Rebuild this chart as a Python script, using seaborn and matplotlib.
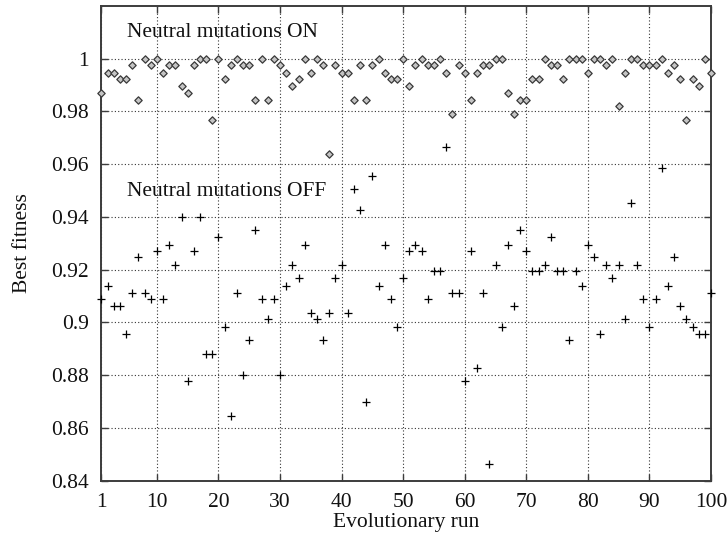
import numpy as np
import matplotlib
matplotlib.use("Agg")
import matplotlib.pyplot as plt
import seaborn as sns

# ---- data ----
runs = list(range(1, 101))

on_vals = [
    0.987, 0.9947, 0.9947, 0.9922, 0.9922, 0.9975, 0.9845, 1.0, 0.9975, 1.0,
    0.9947, 0.9975, 0.9975, 0.9897, 0.987, 0.9975, 1.0, 1.0, 0.9769, 1.0,
    0.9922, 0.9975, 1.0, 0.9975, 0.9975, 0.9845, 1.0, 0.9845, 1.0, 0.9975,
    0.9947, 0.9897, 0.9922, 1.0, 0.9947, 1.0, 0.9975, 0.9638, 0.9975, 0.9947,
    0.9947, 0.9845, 0.9975, 0.9845, 0.9975, 1.0, 0.9947, 0.9922, 0.9922, 1.0,
    0.9897, 0.9975, 1.0, 0.9975, 0.9975, 1.0, 0.9947, 0.9792, 0.9975, 0.9947,
    0.9845, 0.9947, 0.9975, 0.9975, 1.0, 1.0, 0.987, 0.9792, 0.9845, 0.9845,
    0.9922, 0.9922, 1.0, 0.9975, 0.9975, 0.9922, 1.0, 1.0, 1.0, 0.9947,
    1.0, 1.0, 0.9975, 1.0, 0.9819, 0.9947, 1.0, 1.0, 0.9975, 0.9975,
    0.9975, 1.0, 0.9947, 0.9975, 0.9922, 0.9767, 0.9922, 0.9897, 1.0, 0.9947,
]

off_vals = [
    0.9089, 0.9139, 0.9063, 0.9063, 0.8957, 0.9113, 0.9246, 0.9113, 0.9089, 0.9272,
    0.9089, 0.9295, 0.9216, 0.94, 0.8777, 0.9272, 0.94, 0.888, 0.888, 0.9324,
    0.8983, 0.8644, 0.9113, 0.88, 0.8932, 0.9349, 0.9089, 0.9011, 0.9089, 0.88,
    0.9139, 0.9216, 0.9168, 0.9295, 0.9036, 0.9011, 0.8932, 0.9036, 0.9168, 0.9216,
    0.9036, 0.9505, 0.9428, 0.8696, 0.9557, 0.9139, 0.9295, 0.9089, 0.8983, 0.9168,
    0.9272, 0.9295, 0.9272, 0.9089, 0.9193, 0.9193, 0.9665, 0.9113, 0.9113, 0.8777,
    0.9272, 0.8827, 0.9113, 0.8464, 0.9216, 0.8983, 0.9295, 0.9061, 0.9349, 0.9272,
    0.9193, 0.9193, 0.9216, 0.9324, 0.9193, 0.9193, 0.8932, 0.9193, 0.9139, 0.9295,
    0.9246, 0.8957, 0.9216, 0.9168, 0.9216, 0.9011, 0.9452, 0.9216, 0.9089, 0.8983,
    0.9089, 0.9584, 0.9139, 0.9246, 0.9061, 0.9011, 0.8983, 0.8957, 0.8957, 0.9113,
]

x_ticks = [1, 10, 20, 30, 40, 50, 60, 70, 80, 90, 100]
y_ticks = [0.84, 0.86, 0.88, 0.9, 0.92, 0.94, 0.96, 0.98, 1.0]
y_tick_labels = ["0.84", "0.86", "0.88", "0.9", "0.92", "0.94", "0.96", "0.98", "1"]
label_on = "Neutral mutations ON"
label_off = "Neutral mutations OFF"
x_title = "Evolutionary run"
y_title = "Best fitness"

# ---- style ----
sns.set_style("ticks")
plt.rcParams["font.family"] = ["Liberation Serif", "DejaVu Serif"]
FS = 15.5

fig = plt.figure(figsize=(7.27, 5.36), dpi=100)
ax = fig.add_axes([0.1396, 0.1035, 0.8384, 0.8853])

sns.scatterplot(x=runs, y=on_vals, ax=ax, marker="D", s=14,
                facecolor="#c4c4c4", edgecolor="#3a3a3a", linewidth=0.9,
                zorder=3, clip_on=False, legend=False)
sns.scatterplot(x=runs, y=off_vals, ax=ax, marker="+", s=30,
                color="black", linewidth=0.9, zorder=3, clip_on=False,
                legend=False)

ax.set_xlim(1, 100)
ax.set_ylim(0.84, 1.02)
ax.set_xticks(x_ticks)
ax.set_xticklabels([str(t) for t in x_ticks])
ax.set_yticks(y_ticks)
ax.set_yticklabels(y_tick_labels)

ax.grid(True, linestyle=(0, (1, 2)), color="#333333", linewidth=0.8)
ax.set_axisbelow(True)

for sp in ax.spines.values():
    sp.set_visible(True)
    sp.set_color("#3c3c3c")
    sp.set_linewidth(1.4)

ax.tick_params(axis="both", which="both", direction="in", length=5,
               width=1.0, color="#3c3c3c", labelsize=FS, labelcolor="#111111",
               top=True, right=True)
ax.tick_params(axis="y", pad=9)
ax.tick_params(axis="x", pad=9)

ax.text(5.1, 1.0099, label_on, fontsize=FS, va="center", ha="left", color="#111111")
ax.text(5.1, 0.9497, label_off, fontsize=FS, va="center", ha="left", color="#111111")

ax.set_xlabel(x_title, fontsize=FS, color="#111111")
ax.set_ylabel(y_title, fontsize=FS, color="#111111")
ax.xaxis.set_label_coords(0.5, -0.0875)
ax.xaxis.label.set_va("center")
ax.yaxis.set_label_coords(-0.13, 0.5)
ax.yaxis.label.set_va("center")

fig.savefig("out.png", dpi=100)
